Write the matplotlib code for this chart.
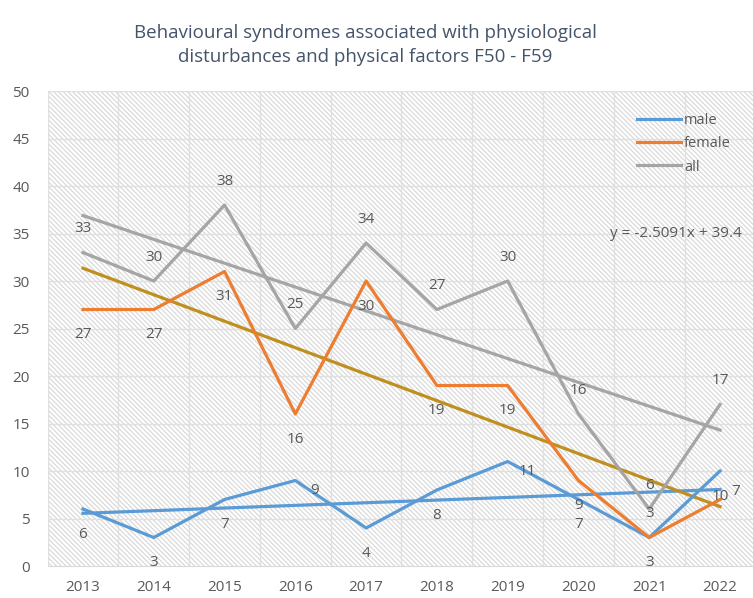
import matplotlib
matplotlib.use("Agg")
import matplotlib.pyplot as plt
from matplotlib.patches import Rectangle
import numpy as np

years = ["2013", "2014", "2015", "2016", "2017", "2018", "2019", "2020", "2021", "2022"]
male = [6, 3, 7, 9, 4, 8, 11, 7, 3, 10]
female = [27, 27, 31, 16, 30, 19, 19, 9, 3, 7]
all_ = [33, 30, 38, 25, 34, 27, 30, 16, 6, 17]

# label placement per point (b=below, t=above, r=right, R=right & a bit higher)
male_pos = ["b", "b", "b", "r", "b", "b", "r", "b", "t", "b"]
female_pos = ["b", "b", "b", "b", "b", "b", "b", "b", "b", "R"]
all_pos = ["t"] * 10

plt.rcParams["font.family"] = ["Open Sans", "DejaVu Sans"]
plt.rcParams["hatch.color"] = "#d6d6d6"
plt.rcParams["hatch.linewidth"] = 0.8

BLUE = "#5B9BD5"
ORANGE = "#ED7D31"
GRAY = "#A5A5A5"
GOLD = "#BF8F1F"
TXT = "#595959"

fig = plt.figure(figsize=(7.53, 5.98), dpi=100)
ax = fig.add_axes([0.0632, 0.0535, 0.94, 0.7943])

x = np.arange(1, len(years) + 1)
ax.set_xlim(0.5, len(years) + 0.5)
ax.set_ylim(0, 50)

ax.add_patch(Rectangle((0, 0), 1, 1, transform=ax.transAxes, facecolor="white",
                       edgecolor="#d6d6d6", hatch="\\" * 7, lw=0, zorder=0))

for yv in range(5, 51, 5):
    ax.axhline(yv, color="#e0e0e0", lw=1, zorder=1)
for xv in np.arange(0.5, len(years) + 1):
    ax.axvline(xv, color="#e0e0e0", lw=1, zorder=1)

lw = 2.3
ax.plot(x, male, color=BLUE, lw=lw, label="male", zorder=3)
ax.plot(x, female, color=ORANGE, lw=lw, label="female", zorder=3)
ax.plot(x, all_, color=GRAY, lw=lw, label="all", zorder=3)

# linear trend lines
for ser, col in [(male, BLUE), (female, GOLD), (all_, GRAY)]:
    p = np.polyfit(x, ser, 1)
    ax.plot(x, np.polyval(p, x), color=col, lw=lw, zorder=2)

p_all = np.polyfit(x, all_, 1)
ax.text(8.44, 35.0, "y = %.4fx + %.1f" % (p_all[0], p_all[1]), color=TXT,
        fontsize=11, va="center", ha="left")

offs = {"b": (0, -18, "center", "center"), "t": (0, 17, "center", "center"),
        "r": (14, -7, "center", "center"), "R": (11, 6, "center", "center")}
for ser, pos in [(male, male_pos), (female, female_pos), (all_, all_pos)]:
    for xi, v, ps in zip(x, ser, pos):
        dx, dy, ha, va = offs[ps]
        ax.annotate(str(v), (xi, v), xytext=(dx, dy), textcoords="offset points",
                    ha=ha, va=va, color=TXT, fontsize=11, zorder=4)

ax.set_xticks(x)
ax.set_xticklabels(years)
ax.set_yticks(range(0, 51, 5))
ax.tick_params(axis="both", length=0, colors=TXT, labelsize=11)
ax.tick_params(axis="x", pad=10)
ax.tick_params(axis="y", pad=13)
for s in ["top", "right", "left"]:
    ax.spines[s].set_visible(False)
ax.spines["bottom"].set_color("#d9d9d9")

leg = ax.legend(loc="upper left", bbox_to_anchor=(0.825, 0.965), frameon=False,
                fontsize=10.5, handlelength=3.0, handletextpad=0.2, labelspacing=0.55,
                borderaxespad=0)
for t in leg.get_texts():
    t.set_color(TXT)

fig.text(0.485, 0.96, "Behavioural syndromes associated with physiological\n"
         "disturbances and physical factors F50 - F59",
         ha="center", va="top", fontsize=13.5, color="#44546A", linespacing=1.45)

fig.savefig("out.png", dpi=100)
